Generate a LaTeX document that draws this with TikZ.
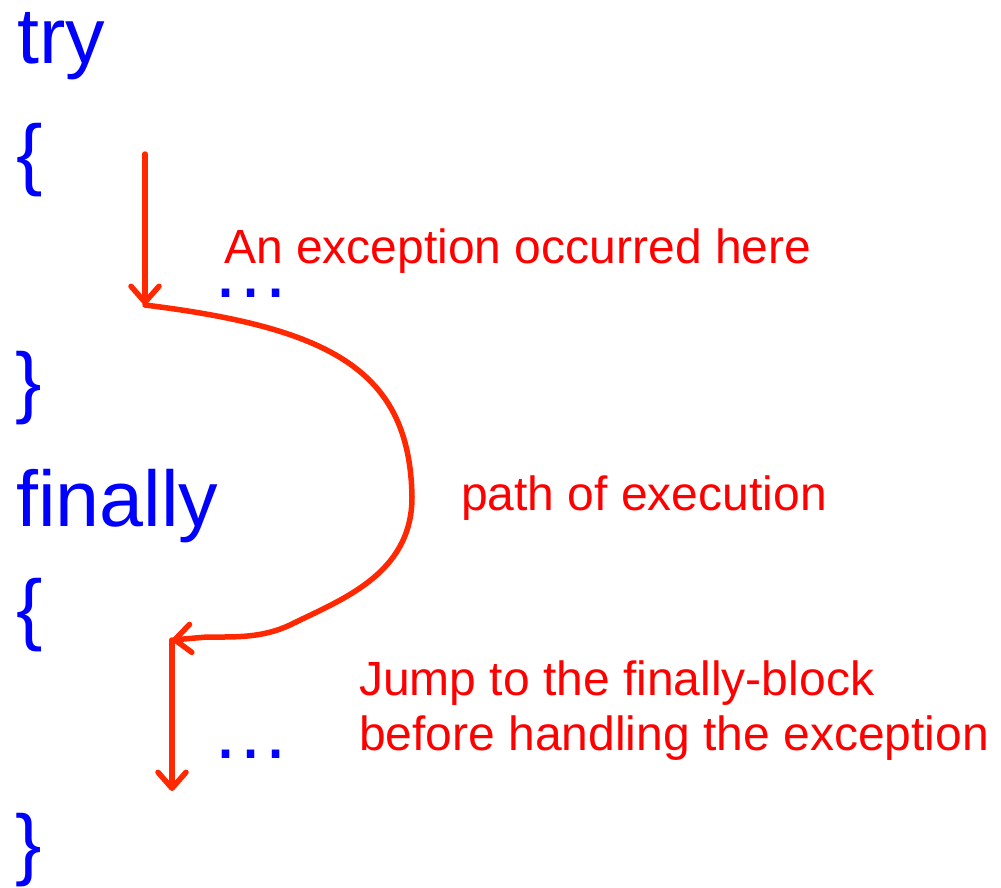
\documentclass[tikz,border=0pt]{standalone}
\usepackage{fontspec}
\setmainfont{Liberation Sans}
\usetikzlibrary{arrows.meta}
\definecolor{codeblue}{RGB}{0,0,255}
\definecolor{labelred}{RGB}{255,0,0}
\definecolor{arrowred}{RGB}{255,40,0}
\tikzset{
  code/.style={anchor=base west,inner sep=0pt,text=codeblue,font=\fontsize{79}{79}\selectfont},
  dotsnode/.style={code,text height=9pt,text depth=0pt},
  lbl/.style={anchor=base west,inner sep=0pt,text=labelred,font=\fontsize{48}{55}\selectfont,align=left},
  flow/.style={draw=arrowred,line width=5.5pt,line cap=round,line join=round,
    -{Straight Barb[length=16pt,width=28pt,line cap=round,line join=round]}}
}
\begin{document}
\begin{tikzpicture}[x=1pt,y=-1pt]
\useasboundingbox (0,0) rectangle (1001,887);
% code lines
\node[code] (try) at (17,63) {try};
\node[code] (open1) at (16,180) {\{};
\node[dotsnode] (dots1) at (211,297) {…};
\node[code] (close1) at (15,408) {\}};
\node[code] (fin) at (16,526) {finally};
\node[code] (open2) at (16,635) {\{};
\node[dotsnode] (dots2) at (211,758) {…};
\node[code] (close2) at (15,870) {\}};
% labels
\node[lbl] (exc) at (224,263) {An exception occurred here};
\node[lbl] (path) at (461,510) {path of execution};
\node[lbl] (jump) at (359,750) {Jump to the finally-block\\before handling the exception};
% path coordinates
\coordinate (s) at (145,154);
\coordinate (e) at (145,305);
\coordinate (f) at (172,640);
\coordinate (g) at (172,791);
\draw[flow] (s) -- (e);
\draw[flow] (e) .. controls (330,328) and (410,370) .. (412,497)
  .. controls (412,575) and (340,600) .. (290,625)
  .. controls (262,638) and (236,637) .. (207,637) -- (f);
\draw[flow] (f) -- (g);
\end{tikzpicture}
\end{document}
